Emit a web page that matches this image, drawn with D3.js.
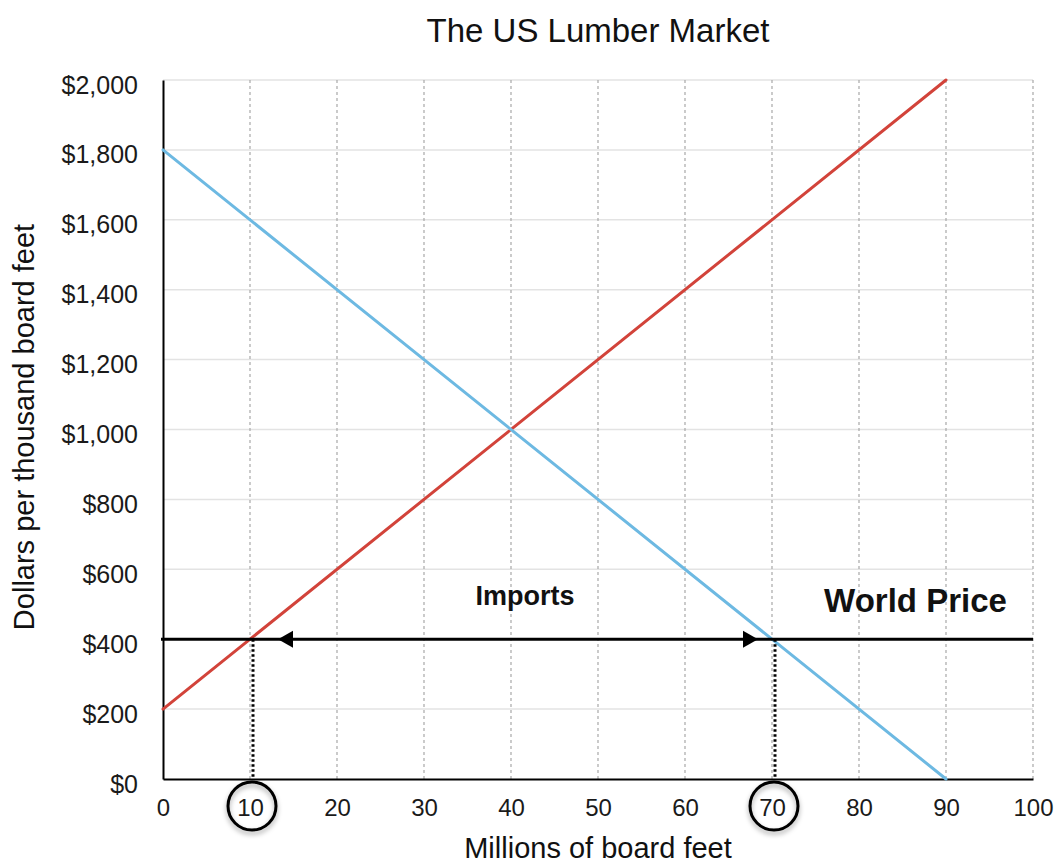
<!DOCTYPE html>
<html><head><meta charset="utf-8">
<script src="https://cdn.jsdelivr.net/npm/d3@7"></script>
<style>body{margin:0;background:#fff;font-family:"Liberation Sans",Arial,sans-serif;}</style>
</head><body>
<svg id="c" width="1057" height="867"></svg>
<script>
const xTicks = [0,10,20,30,40,50,60,70,80,90,100];
const yTicks = [0,200,400,600,800,1000,1200,1400,1600,1800,2000];
const supplyQ = [0, 90];
const supplyP = [200, 2000];
const demandQ = [0, 90];
const demandP = [1800, 0];
const worldPrice = 400;
const domesticSupplyQ = 10;
const domesticDemandQ = 70;
const circledTicks = [10, 70];

const svg = d3.select("#c");
const x = d3.scaleLinear().domain([0,100]).range([163,1033]);
const y = d3.scaleLinear().domain([0,2000]).range([779,80]);
const font = '"Liberation Sans", Arial, sans-serif';

const defs = svg.append("defs");
const f = defs.append("filter").attr("id","sh").attr("x","-50%").attr("y","-50%").attr("width","200%").attr("height","200%");
f.append("feDropShadow").attr("dx",0).attr("dy",3).attr("stdDeviation",2.5).attr("flood-color","#000").attr("flood-opacity",0.35);

// horizontal grid
svg.append("g").selectAll("line").data(yTicks.filter(d=>d>0)).join("line")
  .attr("x1",x(0)).attr("x2",x(100)).attr("y1",d=>y(d)).attr("y2",d=>y(d))
  .attr("stroke","#e3e3e3").attr("stroke-width",1.5);
// vertical grid dashed
svg.append("g").selectAll("line").data(xTicks.filter(d=>d>0)).join("line")
  .attr("x1",d=>x(d)).attr("x2",d=>x(d)).attr("y1",y(0)).attr("y2",y(2000))
  .attr("stroke","#a8a8a8").attr("stroke-width",1.2).attr("stroke-dasharray","3,3");

// axes
const xAxis = d3.axisBottom(x).tickValues(xTicks).tickSize(0).tickPadding(14).tickFormat(d3.format("d"));
const gx = svg.append("g").attr("transform",`translate(0,${y(0)})`).call(xAxis);
gx.select(".domain").attr("stroke","#000").attr("stroke-width",2);
gx.selectAll("text").attr("font-size",24).attr("font-family",font).attr("fill","#1a1a1a")
  .attr("y",37).attr("dy",0);

const yAxis = d3.axisLeft(y).tickValues(yTicks).tickSize(0).tickPadding(25).tickFormat(d=>"$"+d3.format(",")(d));
const gy = svg.append("g").attr("transform",`translate(${x(0)},0)`).call(yAxis);
gy.select(".domain").attr("stroke","#000").attr("stroke-width",2);
gy.selectAll("text").attr("font-size",25).attr("font-family",font).attr("fill","#1a1a1a")
  .attr("dy","0.52em");

// lines
const line = d3.line().x(d=>x(d[0])).y(d=>y(d[1]));
svg.append("path").datum(supplyQ.map((q,i)=>[q,supplyP[i]])).attr("d",line)
  .attr("stroke","#d2433a").attr("stroke-width",3).attr("fill","none").attr("stroke-linecap","round");
svg.append("path").datum(demandQ.map((q,i)=>[q,demandP[i]])).attr("d",line)
  .attr("stroke","#6db9e2").attr("stroke-width",3).attr("fill","none").attr("stroke-linecap","round");

// world price line
svg.append("line").attr("x1",x(0)-2).attr("x2",x(100)).attr("y1",y(worldPrice)).attr("y2",y(worldPrice))
  .attr("stroke","#000").attr("stroke-width",3);

// arrows
const aLen = 15, aH = 8.5;
const yl = y(worldPrice);
const tipL = x(domesticSupplyQ) + 28, tipR = x(domesticDemandQ) - 14;
svg.append("path").attr("d",`M${tipL},${yl} L${tipL+aLen},${yl-aH} L${tipL+aLen},${yl+aH} Z`).attr("fill","#000");
svg.append("path").attr("d",`M${tipR},${yl} L${tipR-aLen},${yl-aH} L${tipR-aLen},${yl+aH} Z`).attr("fill","#000");

// dotted verticals
[domesticSupplyQ, domesticDemandQ].forEach(q=>{
  svg.append("line").attr("x1",x(q)+3).attr("x2",x(q)+3).attr("y1",y(worldPrice)).attr("y2",y(0))
    .attr("stroke","#000").attr("stroke-width",3).attr("stroke-dasharray","2.5,2.5");
});

// circles around ticks
svg.append("g").selectAll("circle").data(circledTicks).join("circle")
  .attr("cx",d=>x(d)+2).attr("cy",806).attr("r",24)
  .attr("fill","none").attr("stroke","#000").attr("stroke-width",3).attr("filter","url(#sh)");

// texts
svg.append("text").attr("x",598).attr("y",42).attr("text-anchor","middle")
  .attr("font-size",33).attr("font-family",font).attr("fill","#111").text("The US Lumber Market");
svg.append("text").attr("x",598).attr("y",858).attr("text-anchor","middle")
  .attr("font-size",29).attr("font-family",font).attr("fill","#111").text("Millions of board feet");
svg.append("text").attr("transform","translate(34,427) rotate(-90)").attr("text-anchor","middle")
  .attr("font-size",29).attr("font-family",font).attr("fill","#111").text("Dollars per thousand board feet");
svg.append("text").attr("x",525).attr("y",605).attr("text-anchor","middle")
  .attr("font-size",27).attr("font-weight","bold").attr("font-family",font).attr("fill","#111").text("Imports");
svg.append("text").attr("x",915.5).attr("y",612).attr("text-anchor","middle")
  .attr("font-size",33).attr("font-weight","bold").attr("font-family",font).attr("fill","#111").text("World Price");
</script>
</body></html>
